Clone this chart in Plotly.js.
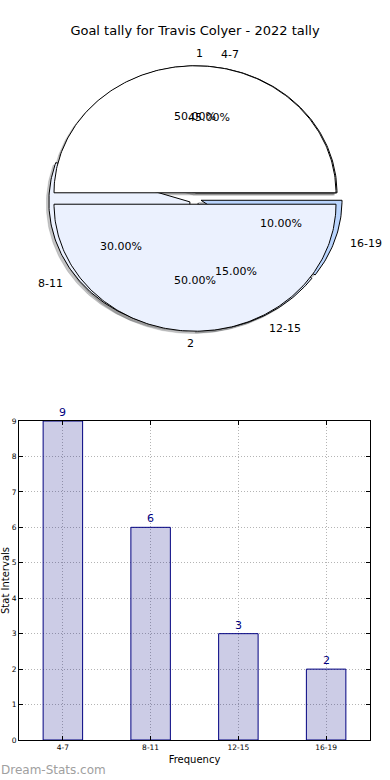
<!DOCTYPE html>
<html><head><meta charset="utf-8">
<script src="https://cdn.plot.ly/plotly-3.0.1.min.js"></script>
<style>html,body{margin:0;padding:0;background:#fff;}#chart{width:390px;height:780px;}</style>
</head><body><div id="chart"></div>
<script>
const chartTitle = 'Goal tally for Travis Colyer - 2022 tally';
const tallyLabels = ['1', '2'];
const tallyValues = [1, 1];
const intervalLabels = ['4-7', '8-11', '12-15', '16-19'];
const intervalCounts = [9, 6, 3, 2];
const tallyColors = ['#ffffff', '#ebf1fe'];
const intervalColors = ['#ffffff', '#ebf1fe', '#dbe8fe', '#b9d4fd'];
const xTitle = 'Frequency';
const yTitle = 'Stat Intervals';
const watermark = 'Dream-Stats.com';

const FONT = 'DejaVu Sans, Verdana, sans-serif';
const EXPLODE = 0.045;

function hexToRgb(h) {
  h = h.replace('#', '');
  return [parseInt(h.substr(0,2),16), parseInt(h.substr(2,2),16), parseInt(h.substr(4,2),16)];
}

function buildPie(values, labels, colors, explode) {
  const total = values.reduce((a, b) => a + b, 0);
  let acc = 0;
  const out = [];
  values.forEach((v, i) => {
    const t1 = acc / total * 2 * Math.PI;
    const t2 = (acc + v) / total * 2 * Math.PI;
    acc += v;
    const tm = (t1 + t2) / 2;
    const cx = explode * Math.cos(tm), cy = explode * Math.sin(tm);
    const xs = [cx], ys = [cy];
    const n = Math.max(8, Math.ceil((t2 - t1) / (Math.PI / 180)));
    for (let k = 0; k <= n; k++) {
      const t = t1 + (t2 - t1) * k / n;
      xs.push(cx + Math.cos(t)); ys.push(cy + Math.sin(t));
    }
    xs.push(cx); ys.push(cy);
    out.push({xs, ys, tm, cx, cy, color: colors[i], label: labels[i], pct: (v / total * 100).toFixed(2) + '%'});
  });
  return out;
}

const pieA = buildPie(tallyValues, tallyLabels, tallyColors, EXPLODE);
const pieB = buildPie(intervalCounts, intervalLabels, intervalColors, EXPLODE);

const traces = [];
// shadows (drawn beneath all wedges)
[pieB, pieA].forEach(p => p.forEach(w => {
  const c = hexToRgb(w.color).map(v => Math.round(v * 0.3));
  const col = 'rgba(' + c.join(',') + ',0.32)';
  traces.push({type: 'scatter', mode: 'lines', xaxis: 'x2', yaxis: 'y2',
    x: w.xs.map(v => v - 0.018), y: w.ys.map(v => v - 0.018),
    fill: 'toself', fillcolor: col, line: {color: col, width: 0.5}, hoverinfo: 'skip'});
}));
// wedges
[pieB, pieA].forEach(p => p.forEach(w => {
  traces.push({type: 'scatter', mode: 'lines', xaxis: 'x2', yaxis: 'y2',
    x: w.xs, y: w.ys, fill: 'toself', fillcolor: w.color,
    line: {color: '#000000', width: 1}, hoverinfo: 'skip'});
}));

const annotations = [];
[pieB, pieA].forEach(p => p.forEach(w => {
  const lx = w.cx + 1.1 * Math.cos(w.tm), ly = w.cy + 1.1 * Math.sin(w.tm);
  const cs = Math.cos(w.tm);
  annotations.push({xref: 'x2', yref: 'y2', x: lx, y: ly, text: w.label, showarrow: false,
    xanchor: cs > 0 ? 'left' : (cs < 0 ? 'right' : 'center'), yanchor: 'middle',
    borderpad: 0, font: {family: FONT, size: 11, color: '#000'}});
  annotations.push({xref: 'x2', yref: 'y2', x: w.cx + 0.6 * Math.cos(w.tm), y: w.cy + 0.6 * Math.sin(w.tm),
    text: w.pct, showarrow: false, xanchor: 'center', yanchor: 'middle', borderpad: 0,
    font: {family: FONT, size: 11, color: '#000'}});
}));

// bars
traces.push({type: 'bar', x: intervalLabels, y: intervalCounts, width: 0.45,
  marker: {color: 'rgba(0,0,128,0.2)', line: {color: '#000080', width: 1}},
  hoverinfo: 'skip', xaxis: 'x', yaxis: 'y'});
intervalLabels.forEach((l, i) => {
  annotations.push({xref: 'x', yref: 'y', x: l, y: intervalCounts[i], text: String(intervalCounts[i]),
    showarrow: false, xanchor: 'center', yanchor: 'bottom', yshift: 1, borderpad: 0,
    font: {family: FONT, size: 11, color: '#000080'}});
});
annotations.push({xref: 'paper', yref: 'paper', x: 0, y: 0, xanchor: 'left', yanchor: 'bottom', yshift: 1, xshift: -1,
  text: watermark, showarrow: false, font: {family: FONT, size: 12, color: '#a0a0a0', weight: 'normal'}});

const H = 780, W = 390;
const GRID = '#b4b4b4';
const layout = {
  width: W, height: H, margin: {l: 0, r: 0, t: 0, b: 0},
  paper_bgcolor: '#fff', plot_bgcolor: 'rgba(0,0,0,0)', showlegend: false,
  title: {text: chartTitle, x: 0.5, xanchor: 'center', y: 1 - 30 / H, yanchor: 'middle',
    font: {family: FONT, size: 13, color: '#000'}},
  xaxis2: {domain: [0, 1], range: [-195 / 141, 195 / 141], visible: false, anchor: 'y2', fixedrange: true},
  yaxis2: {domain: [1 - 360 / H, 1 - 40 / H], range: [-(320 - 158.5) / 127, 158.5 / 127], visible: false, anchor: 'x2', fixedrange: true},
  xaxis: {domain: [19 / W, 370 / W], anchor: 'y', type: 'category', range: [-0.5, 3.5],
    showline: true, linecolor: '#000', linewidth: 1, mirror: 'allticks', ticks: 'inside', ticklen: 4, tickcolor: '#000',
    showgrid: true, gridcolor: GRID, griddash: '1px,2px', gridwidth: 1,
    tickfont: {family: FONT, size: 7.5, color: '#000'},
    title: {text: xTitle, standoff: 4, font: {family: FONT, size: 10, color: '#000'}}, zeroline: false},
  yaxis: {domain: [1 - 740 / H, 1 - 421 / H], anchor: 'x', range: [0, 9], dtick: 1, tick0: 0,
    showline: true, linecolor: '#000', linewidth: 1, mirror: 'allticks', ticks: 'inside', ticklen: 4, tickcolor: '#000',
    showgrid: true, gridcolor: GRID, griddash: '1px,2px', gridwidth: 1, zeroline: false,
    tickfont: {family: FONT, size: 7.5, color: '#000'},
    title: {text: yTitle, standoff: 1, font: {family: FONT, size: 10, color: '#000'}}},
  annotations: annotations
};

Plotly.newPlot('chart', traces, layout, {displayModeBar: false, staticPlot: true});
</script></body></html>
